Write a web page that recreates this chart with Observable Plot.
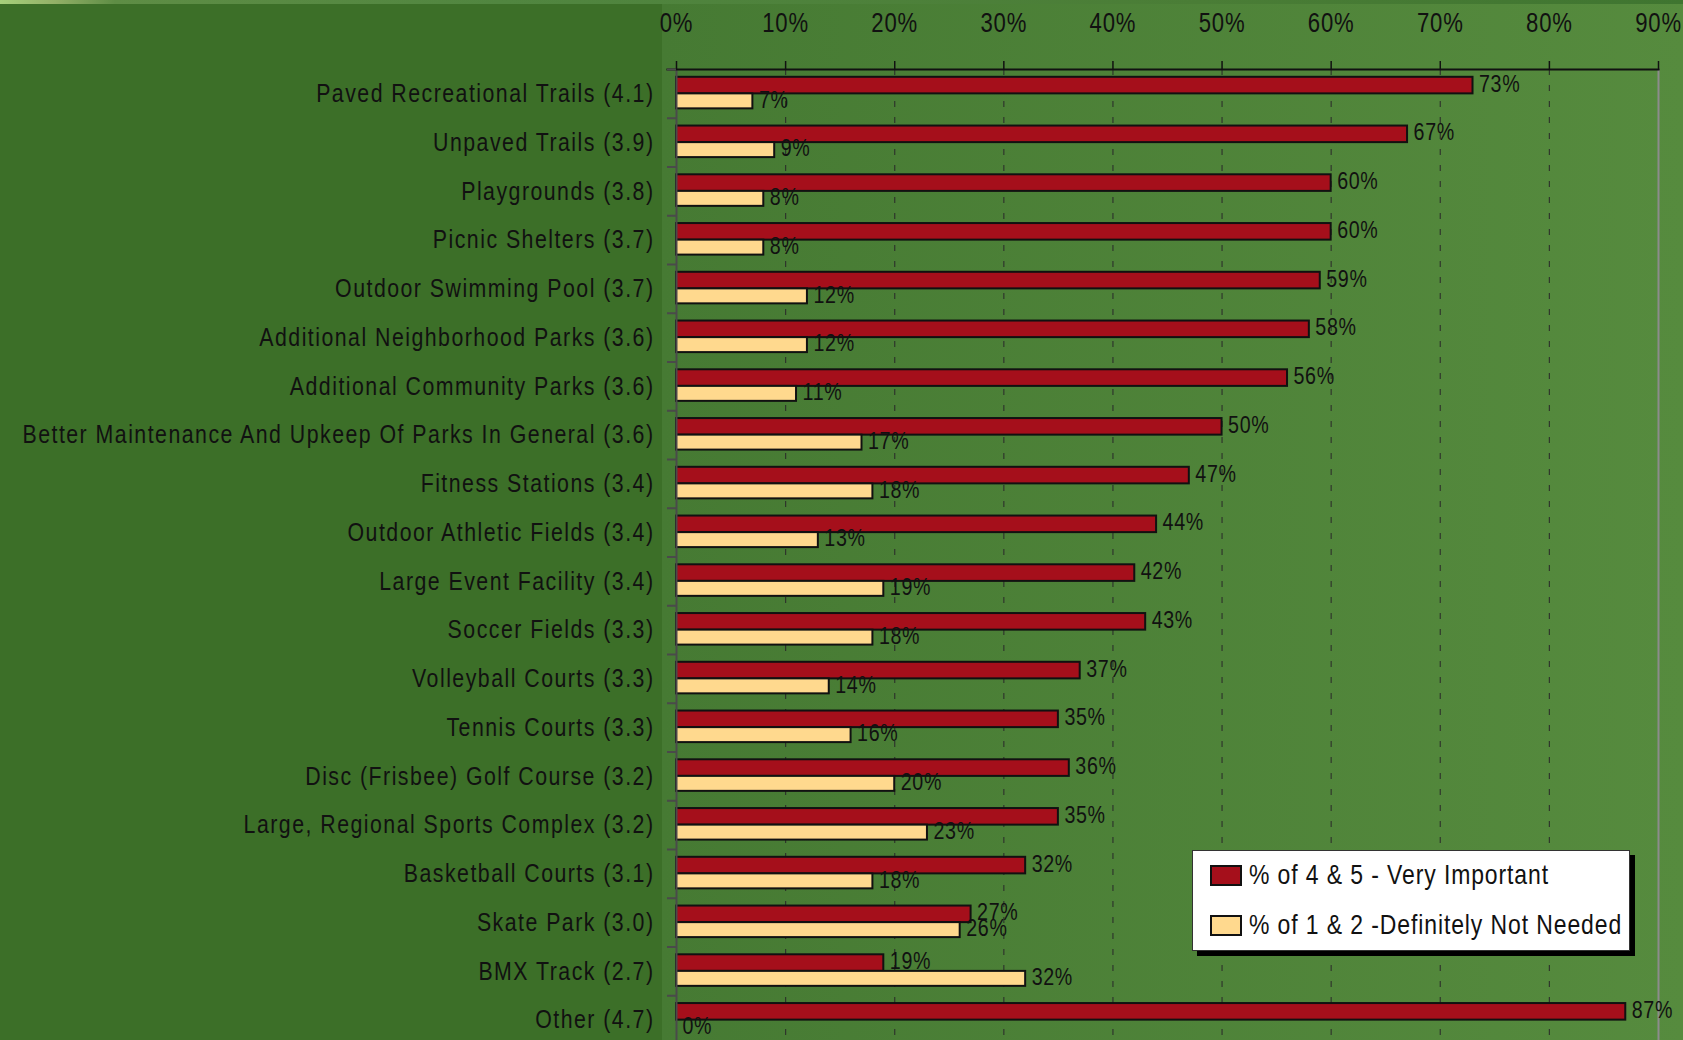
<!DOCTYPE html>
<html>
<head>
<meta charset="utf-8">
<script src="https://cdn.jsdelivr.net/npm/d3@7"></script>
<script src="https://cdn.jsdelivr.net/npm/@observablehq/plot@0.6"></script>
<style>
  html, body { margin: 0; padding: 0; }
  body {
    width: 1683px; height: 1040px; overflow: hidden;
    background: #3c6f28;
    position: relative;
    font-family: "Liberation Sans", Arial, sans-serif;
    color: #111;
  }
  #panel {
    position: absolute; left: 662px; top: 0; width: 1021px; height: 1040px;
    background: linear-gradient(to right, #467a33, #568b3e);
  }
  #topstrip {
    position: absolute; left: 0; top: 0; width: 1683px; height: 4px;
    background: linear-gradient(to right, #a6d07b 0px, #93b067 55px, #5e8d45 115px, #518640 500px, #4a7d36 1200px, #3f7530 100%);
  }
  #chart { position: absolute; left: 0; top: 0; }
  #chart svg { display: block; }
  #legend {
    position: absolute; left: 1192px; top: 850px; width: 438px; height: 101px;
    box-sizing: border-box; background: #fff; border: 1px solid #333;
    box-shadow: 5px 5px 0 #000;
  }
  .item { position: absolute; left: 17px; display: flex; align-items: center; font-size: 28px; line-height: 1; white-space: nowrap; }
  .sw { width: 28px; height: 17px; border: 2px solid #111; box-sizing: content-box; margin-right: 7px; flex: none; }
  .lbl { display: inline-block; transform: scaleX(0.82); transform-origin: 0 50%; letter-spacing: 1.1px; }
</style>
</head>
<body>
<div id="panel"></div>
<div id="topstrip"></div>
<div id="chart"></div>
<div id="legend">
  <div class="item" style="top:10px"><span class="sw" style="background:#a50f1b"></span><span class="lbl">% of 4 &amp; 5 - Very Important</span></div>
  <div class="item" style="top:60px"><span class="sw" style="background:#ffd98e"></span><span class="lbl">% of 1 &amp; 2 -Definitely Not Needed</span></div>
</div>
<script>
// Facilities, with mean importance rating in parentheses
const categories = [
  "Paved Recreational Trails (4.1)",
  "Unpaved Trails (3.9)",
  "Playgrounds (3.8)",
  "Picnic Shelters (3.7)",
  "Outdoor Swimming Pool (3.7)",
  "Additional Neighborhood Parks (3.6)",
  "Additional Community Parks (3.6)",
  "Better Maintenance And Upkeep Of Parks In General (3.6)",
  "Fitness Stations (3.4)",
  "Outdoor Athletic Fields (3.4)",
  "Large Event Facility (3.4)",
  "Soccer Fields (3.3)",
  "Volleyball Courts (3.3)",
  "Tennis Courts (3.3)",
  "Disc (Frisbee) Golf Course (3.2)",
  "Large, Regional Sports Complex (3.2)",
  "Basketball Courts (3.1)",
  "Skate Park (3.0)",
  "BMX Track (2.7)",
  "Other (4.7)"
];

// % answering 4 or 5 (very important)
const veryImportant = [73, 67, 60, 60, 59, 58, 56, 50, 47, 44, 42, 43, 37, 35, 36, 35, 32, 27, 19, 87];
// % answering 1 or 2 (definitely not needed)
const notNeeded = [7, 9, 8, 8, 12, 12, 11, 17, 18, 13, 19, 18, 14, 16, 20, 23, 18, 26, 32, 0];

const xTicks = [0, 10, 20, 30, 40, 50, 60, 70, 80, 90];

const rows = categories.map((category, i) => ({
  category,
  vi: veryImportant[i],
  nn: notNeeded[i]
}));

const plotTop = 69, plotBottom = 1044, svgHeight = 1046;
const band = (plotBottom - plotTop) / categories.length;

const svg = Plot.plot({
  width: 1683,
  height: svgHeight,
  marginTop: plotTop,
  marginLeft: 676,
  marginRight: 25,
  marginBottom: svgHeight - plotBottom,
  style: {
    background: "transparent",
    fontFamily: '"Liberation Sans", Arial, sans-serif',
    color: "#111",
    overflow: "visible"
  },
  x: { domain: [0, 90] },
  y: { domain: categories, padding: 0, round: false },
  marks: [
    Plot.gridX(xTicks.filter(t => t > 0 && t < 90), {
      stroke: "#2a2a2a", strokeOpacity: 0.85, strokeWidth: 1.2, strokeDasharray: "6,10"
    }),
    Plot.barX(rows, {
      x: "vi", y: "category", fill: "#a50f1b", stroke: "#111", strokeWidth: 2,
      insetTop: 7.8, insetBottom: band / 2
    }),
    Plot.barX(rows, {
      x: "nn", y: "category", fill: "#ffd98e", stroke: "#111", strokeWidth: 2,
      insetTop: band / 2, insetBottom: 9.4
    }),
    Plot.frame({ anchor: "right", stroke: "#8c8c8c", strokeWidth: 2 }),
    Plot.frame({ anchor: "left", stroke: "#4a4a4a", strokeWidth: 2 }),
    Plot.frame({ anchor: "top", stroke: "#111", strokeWidth: 2, insetLeft: -9 }),
    Plot.axisX({
      anchor: "top", ticks: xTicks, tickFormat: d => `${d}%`,
      tickSize: 9, tickPadding: 29, fontSize: 27, label: null, stroke: "#111", strokeWidth: 1.5
    }),
    Plot.axisY({ tickSize: 0, tickPadding: 22, fontSize: 26, label: null }),
    Plot.axisY({ tickSize: 9, text: null, label: null, dy: -band / 2, stroke: "#4a4a4a", strokeWidth: 2 }),
    Plot.text(rows, {
      x: "vi", y: "category", text: d => `${d.vi}%`,
      textAnchor: "start", dx: 6, dy: -10, fontSize: 24, fill: "#111"
    }),
    Plot.text(rows, {
      x: "nn", y: "category", text: d => `${d.nn}%`,
      textAnchor: "start", dx: 6, dy: 6, fontSize: 24, fill: "#111"
    })
  ]
});

// narrow, slightly tracked lettering: squeeze each label horizontally about its anchor
const tracking = { "26": 1.8, "27": 1.0, "24": 0.8 };
svg.querySelectorAll("text").forEach(el => {
  const sized = el.closest("[font-size]");
  const fs = sized ? sized.getAttribute("font-size") : null;
  const ax = parseFloat(el.getAttribute("x")) || 0;
  const t = el.getAttribute("transform") || "";
  el.setAttribute("transform", `${t} translate(${ax},0) scale(0.82,1) translate(${-ax},0)`);
  el.style.letterSpacing = `${tracking[fs] ?? 1}px`;
});

document.getElementById("chart").appendChild(svg);
</script>
</body>
</html>
